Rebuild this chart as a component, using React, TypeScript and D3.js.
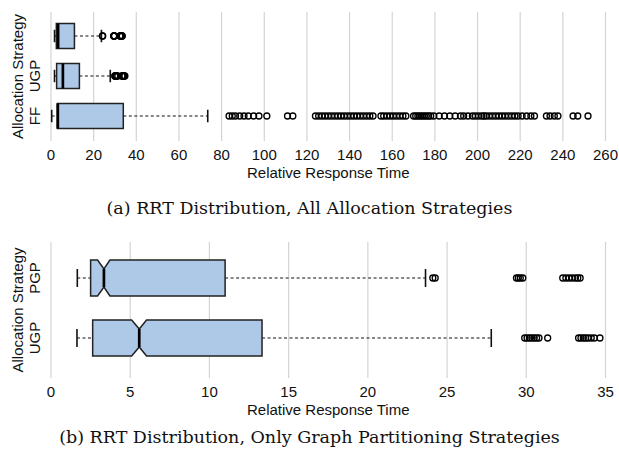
import React from "react";
import * as d3 from "d3";

// categories shown top to bottom
const categoriesA = ["PGP", "UGP", "FF"];
const rowLabelsA = ["", "UGP", "FF"];
const categoriesB = ["PGP", "UGP"];
const rowLabelsB = ["PGP", "UGP"];

// [lower whisker, q1, median, q3, upper whisker]
const pgpStats = [1.66, 2.5, 3.34, 10.99, 23.64];
const ugpStats = [1.64, 2.63, 5.57, 13.32, 27.79];
const ffStats = [0.33, 2.96, 3.2, 33.9, 73.5];

// notch ends around the median
const pgpNotch = [2.94, 3.72];
const ugpNotch = [5.09, 6.03];

const pgpOutliers = [24.1, 24.25, 29.38, 29.5, 29.62, 29.78, 32.3, 32.5, 32.7, 32.9, 33.1, 33.25, 33.4];
const ugpOutliers = [29.9, 30.05, 30.2, 30.35, 30.5, 30.65, 30.8, 31.35, 33.3, 33.45, 33.6, 33.75, 33.9, 34.1, 34.3, 34.65];
const ffOutliers = [
  83.5, 85, 86.5, 88.5, 90.5, 92.5, 95, 97.5, 101.2, 110.9, 113.4,
  124, 125.5, 127, 128.5, 130, 131.5, 133, 134.5, 136, 137.5, 139, 140.5, 142, 143.5, 145, 146.5, 148, 149.5, 151,
  154.7, 156, 157.5, 159, 160.5, 162, 163.5, 165, 166.4,
  170, 171, 172, 173, 174, 175, 176, 177, 178,
  179.5, 182, 184.5, 187, 189.5, 192, 193.5, 195.5,
  197.6, 199, 200.5, 202, 203, 204, 205.5, 207, 208.5, 210, 211.5, 213, 214.5, 216, 217.5, 219, 220.9,
  223, 225, 226.7, 232.3, 234, 236, 237.7, 244.8, 247, 251.8,
];

const ticksA = d3.range(0, 261, 20);
const ticksB = d3.range(0, 36, 5);

const FILL = "#aec8e7";
const FONT = "'Liberation Sans', Arial, sans-serif";

type Row = { stats: number[]; notch?: number[]; outliers: number[] };

const rowsA: Row[] = [
  { stats: pgpStats, outliers: pgpOutliers },
  { stats: ugpStats, outliers: ugpOutliers },
  { stats: ffStats, outliers: ffOutliers },
];
const rowsB: Row[] = [
  { stats: pgpStats, notch: pgpNotch, outliers: pgpOutliers },
  { stats: ugpStats, notch: ugpNotch, outliers: ugpOutliers },
];

function Panel(props: {
  top: number; bottom: number; bandTop: number; bandBottom: number;
  domainMax: number; ticks: number[]; categories: string[]; labels: string[];
  rows: Row[]; boxFrac: number; caption: string; captionY: number;
}) {
  const { top, bottom, bandTop, bandBottom, domainMax, ticks, categories, labels, rows, boxFrac, caption, captionY } = props;
  const x = d3.scaleLinear().domain([0, domainMax]).range([51, 605.5]);
  const y = d3.scaleBand().domain(categories).range([bandTop, bandBottom]).padding(0);
  const bh = y.bandwidth() * boxFrac;

  return (
    <g>
      {ticks.map((t) => (
        <g key={t}>
          <line x1={x(t)} x2={x(t)} y1={top} y2={bottom} stroke="#d4d4d4" strokeWidth={1.2} />
          <text x={x(t)} y={bottom + 19} textAnchor="middle" fontSize={15} fontFamily={FONT} fill="#111">{t}</text>
        </g>
      ))}
      <text x={(x(0) + x(domainMax)) / 2} y={bottom + 36.5} textAnchor="middle" fontSize={15} fontFamily={FONT} fill="#111">Relative Response Time</text>
      <text transform={`translate(23,${(top + bottom) / 2}) rotate(-90)`} textAnchor="middle" fontSize={15} fontFamily={FONT} fill="#111">Allocation Strategy</text>
      {categories.map((c, i) => {
        const cy = (y(c) as number) + y.bandwidth() / 2;
        const h = bh / 2;
        const [lo, q1, med, q3, hi] = rows[i].stats;
        const notch = rows[i].notch;
        let boxPath: string;
        if (notch) {
          const p = d3.path();
          p.moveTo(x(q1), cy - h);
          p.lineTo(x(notch[0]), cy - h);
          p.lineTo(x(med), cy - h / 2);
          p.lineTo(x(notch[1]), cy - h);
          p.lineTo(x(q3), cy - h);
          p.lineTo(x(q3), cy + h);
          p.lineTo(x(notch[1]), cy + h);
          p.lineTo(x(med), cy + h / 2);
          p.lineTo(x(notch[0]), cy + h);
          p.lineTo(x(q1), cy + h);
          p.closePath();
          boxPath = p.toString();
        } else {
          const p = d3.path();
          p.rect(x(q1), cy - h, x(q3) - x(q1), 2 * h);
          boxPath = p.toString();
        }
        const mh = notch ? h / 2 : h;
        return (
          <g key={c}>
            <text transform={`translate(39.5,${cy}) rotate(-90)`} textAnchor="middle" fontSize={15} fontFamily={FONT} fill="#111">{labels[i]}</text>
            <line x1={x(lo)} x2={x(q1)} y1={cy} y2={cy} stroke="#111" strokeWidth={1.2} strokeDasharray="3,2.5" />
            <line x1={x(q3)} x2={x(hi)} y1={cy} y2={cy} stroke="#111" strokeWidth={1.2} strokeDasharray="3,2.5" />
            <line x1={x(lo)} x2={x(lo)} y1={cy - h / 2} y2={cy + h / 2} stroke="#111" strokeWidth={1.6} />
            <line x1={x(hi)} x2={x(hi)} y1={cy - h / 2} y2={cy + h / 2} stroke="#111" strokeWidth={1.6} />
            <path d={boxPath} fill={FILL} stroke="#222" strokeWidth={1.5} />
            <line x1={x(med)} x2={x(med)} y1={cy - mh} y2={cy + mh} stroke="#000" strokeWidth={2.7} />
            {rows[i].outliers.filter((v) => v <= domainMax).map((v, k) => (
              <circle key={k} cx={x(v)} cy={cy} r={3} fill="none" stroke="#000" strokeWidth={1.3} />
            ))}
          </g>
        );
      })}
      <text x={309.5} y={captionY} textAnchor="middle" fontSize={17.5} fontFamily="'DejaVu Serif', 'Liberation Serif', serif" fill="#111">{caption}</text>
    </g>
  );
}

export default function App() {
  return (
    <div style={{ position: "fixed", left: 0, top: 0, background: "#fff" }}>
      <svg width={619} height={455} style={{ display: "block" }}>
        <rect width={619} height={455} fill="#fff" />
        <Panel top={12} bottom={141} bandTop={16} bandBottom={136} domainMax={260} ticks={ticksA}
          categories={categoriesA} labels={rowLabelsA} rows={rowsA} boxFrac={0.625}
          caption="(a) RRT Distribution, All Allocation Strategies" captionY={214} />
        <Panel top={242} bottom={378} bandTop={248} bandBottom={368} domainMax={35} ticks={ticksB}
          categories={categoriesB} labels={rowLabelsB} rows={rowsB} boxFrac={0.6}
          caption="(b) RRT Distribution, Only Graph Partitioning Strategies" captionY={443} />
      </svg>
    </div>
  );
}
